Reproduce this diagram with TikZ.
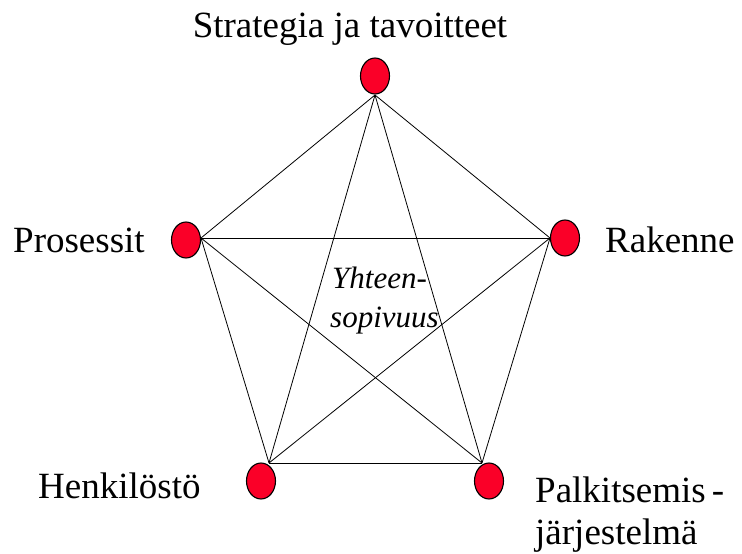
\documentclass[tikz,border=0pt]{standalone}
\usepackage{fontspec}
\setmainfont{Liberation Serif}
\usetikzlibrary{shapes.geometric}
\definecolor{dotred}{RGB}{250,0,40}
\tikzset{
  dot/.style={ellipse, draw=black, line width=1.1pt, fill=dotred, minimum width=29pt, minimum height=36pt, inner sep=0pt},
  lbl/.style={inner sep=0pt, font=\fontsize{37}{44}\selectfont},
  mid/.style={inner sep=0pt, font=\fontsize{31}{37}\selectfont\itshape},
  edge/.style={line width=0.8pt, black}
}
\begin{document}
\begin{tikzpicture}[x=1pt,y=-1pt]
\useasboundingbox (0,0) rectangle (742,554);
% connection points
\coordinate (vT) at (375,95);
\coordinate (vL) at (201,238);
\coordinate (vR) at (550,238);
\coordinate (vBL) at (269,463);
\coordinate (vBR) at (482,463);
% connectors
\draw[edge] (vT) -- (vL);
\draw[edge] (vT) -- (vR);
\draw[edge] (vT) -- (vBL);
\draw[edge] (vT) -- (vBR);
\draw[edge] (vL) -- (vR);
\draw[edge] (vL) -- (vBL);
\draw[edge] (vL) -- (vBR);
\draw[edge] (vR) -- (vBL);
\draw[edge] (vR) -- (vBR);
\draw[edge] (vBL) -- (vBR);
% dots
\node[dot] (eT) at (375,76) {};
\node[dot] (eL) at (186,240) {};
\node[dot] (eR) at (565,238) {};
\node[dot] (eBL) at (261,481) {};
\node[dot] (eBR) at (489,481) {};
% labels
\node[lbl, anchor=base] (tT) at (350,37) {Strategia ja tavoitteet};
\node[lbl, anchor=base west] (tL) at (13,252) {Prosessit};
\node[lbl, anchor=base west] (tR) at (605,252) {Rakenne};
\node[lbl, anchor=base west] (tBR1) at (535,502) {Palkitsemis\,-};
\node[lbl, anchor=base west] (tBL) at (38,498) {Henkilöstö};
\node[lbl, anchor=base west] (tBR2) at (535,544) {järjestelmä};
\node[mid, anchor=base west] (c1) at (332,288) {Yhteen-};
\node[mid, anchor=base west] (c2) at (330,327) {sopivuus};
\end{tikzpicture}
\end{document}
